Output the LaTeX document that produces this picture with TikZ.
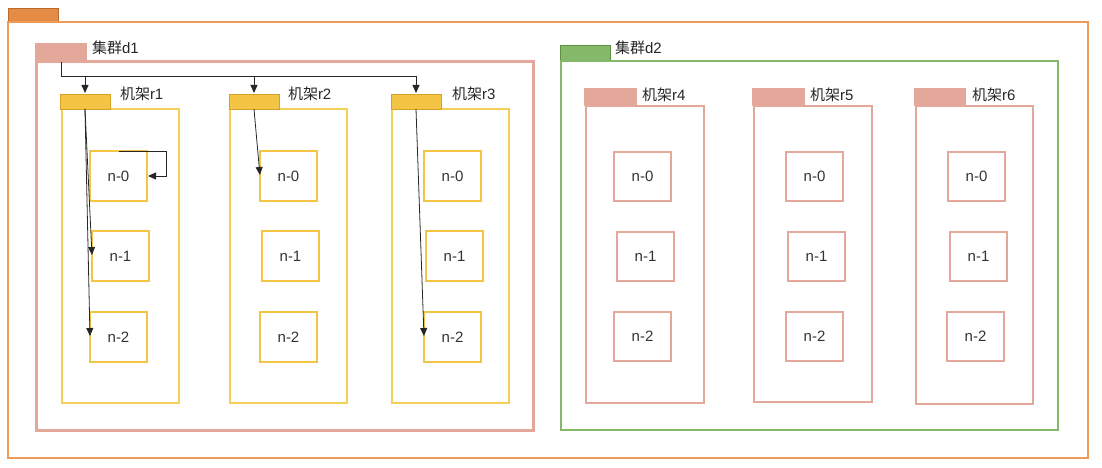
\documentclass[tikz,border=0pt]{standalone}
\usepackage{fontspec}
\setmainfont{Liberation Sans}
\newfontfamily\cjk{Noto Sans CJK SC}
\usepackage{tikz}
\usetikzlibrary{arrows.meta,positioning,calc}
\definecolor{zoneor}{HTML}{EE9A58}
\definecolor{zoneortab}{HTML}{E48B45}
\definecolor{zoneorline}{HTML}{B86A2C}
\definecolor{clpink}{HTML}{E3A89A}
\definecolor{clgreen}{HTML}{86B86A}
\definecolor{clgreenline}{HTML}{5E8F40}
\definecolor{rkyellow}{HTML}{F4C444}
\definecolor{rkyellowline}{HTML}{D6A02A}
\definecolor{rkframe}{HTML}{F5CE55}

\begin{document}
\begin{tikzpicture}[
    x=1pt, y=-1pt,
    >={Triangle[length=8pt,width=7pt]},
    every node/.style={inner sep=0pt, outer sep=0pt},
    box/.style={anchor=north west, rectangle},
    zone/.style={box, draw=zoneor, line width=1.5pt},
    zonetab/.style={box, draw=zoneorline, fill=zoneortab, line width=0.8pt, minimum width=50pt, minimum height=14pt},
    dcpink/.style={box, draw=clpink, line width=3pt},
    dcgreen/.style={box, draw=clgreen, line width=1.5pt},
    pinktab/.style={box, fill=clpink, minimum height=18pt},
    greentab/.style={box, draw=clgreenline, fill=clgreen, line width=0.8pt, minimum width=50pt, minimum height=16pt},
    yrack/.style={box, draw=rkframe, line width=1.8pt, minimum width=117pt, minimum height=294pt},
    ytab/.style={box, draw=rkyellowline, fill=rkyellow, line width=0.8pt, minimum width=50pt, minimum height=15pt},
    prack/.style={box, draw=clpink, line width=2.5pt, minimum width=117pt, minimum height=296pt},
    ynode/.style={box, draw=rkyellow, line width=1.8pt, minimum width=57pt, minimum height=50pt, text=black!80, font=\fontsize{15}{18}\selectfont},
    pnode/.style={box, draw=clpink, line width=2.5pt, minimum width=57pt, minimum height=49pt, text=black!80, font=\fontsize{15}{18}\selectfont},
    tag/.style={anchor=west, text=black!85, font=\fontsize{15}{18}\selectfont},
    link/.style={->, line width=0.8pt, black!85, shorten >=1pt}
]
\useasboundingbox (0,0) rectangle (1102,468);

% outer zone
\node[zonetab] (ztab) at (8,8) {};
\node[zone, minimum width=1080pt, minimum height=436pt] (zone) at (8,22) {};

% cluster d1
\node[pinktab, minimum width=52pt, minimum height=19pt] (d1tab) at (35,43) {};
\node[dcpink, minimum width=497pt, minimum height=368pt] (d1) at (36,62) {};
\node[tag] (d1lab) at (92,48) {{\cjk 集群}d1};

% cluster d2
\node[greentab] (d2tab) at (560,45) {};
\node[dcgreen, minimum width=497pt, minimum height=369pt] (d2) at (561,61) {};
\node[tag] (d2lab) at (615,48) {{\cjk 集群}d2};

% racks in d1
\node[yrack] (r1) at (62,109) {};
\node[ytab] (t1) at (60,94) {};
\node[tag] (r1lab) at (120,94) {{\cjk 机架}r1};
\node[yrack] (r2) at (230,109) {};
\node[ytab] (t2) at (229,94) {};
\node[tag] (r2lab) at (288,94) {{\cjk 机架}r2};
\node[yrack] (r3) at (392,109) {};
\node[ytab] (t3) at (391,94) {};
\node[tag] (r3lab) at (452,94) {{\cjk 机架}r3};

\node[ynode] (n10) at (90,151) {n-0};
\node[ynode] (n11) at (92,231) {n-1};
\node[ynode] (n12) at (90,312) {n-2};
\node[ynode] (n20) at (260,151) {n-0};
\node[ynode] (n21) at (262,231) {n-1};
\node[ynode] (n22) at (260,312) {n-2};
\node[ynode] (n30) at (424,151) {n-0};
\node[ynode] (n31) at (426,231) {n-1};
\node[ynode] (n32) at (424,312) {n-2};

% racks in d2
\node[prack, minimum width=118pt, minimum height=297pt] (r4) at (586,106) {};
\node[pinktab, minimum width=53pt] (t4) at (584,88) {};
\node[tag] (r4lab) at (642,95) {{\cjk 机架}r4};
\node[prack, minimum width=118pt] (r5) at (754,106) {};
\node[pinktab, minimum width=53pt] (t5) at (752,88) {};
\node[tag] (r5lab) at (810,95) {{\cjk 机架}r5};
\node[prack, minimum height=298pt] (r6) at (916,106) {};
\node[pinktab, minimum width=52pt] (t6) at (914,88) {};
\node[tag] (r6lab) at (972,95) {{\cjk 机架}r6};

\node[pnode] (n40) at (614,152) {n-0};
\node[pnode] (n41) at (617,232) {n-1};
\node[pnode] (n42) at (614,312) {n-2};
\node[pnode] (n50) at (786,152) {n-0};
\node[pnode] (n51) at (788,232) {n-1};
\node[pnode] (n52) at (786,312) {n-2};
\node[pnode] (n60) at (948,152) {n-0};
\node[pnode] (n61) at (950,232) {n-1};
\node[pnode] (n62) at (947,312) {n-2};

% connectors
\coordinate (bus) at ($(d1tab.south)+(0,14)$);
\draw[link] (d1tab.south) -- (bus) -| (t1.north);
\draw[link] (bus) -| (t2.north);
\draw[link] (bus) -| (t3.north);
\draw[link] (t1.south) -- (n12.west);
\draw[link] (t1.south) -- (n11.west);
\draw[link] (n10.north) -- ++(48,0) |- (n10.east);
\draw[link] (t2.south) -- (n20.west);
\draw[link] (t3.south) -- (n32.west);
\end{tikzpicture}
\end{document}
